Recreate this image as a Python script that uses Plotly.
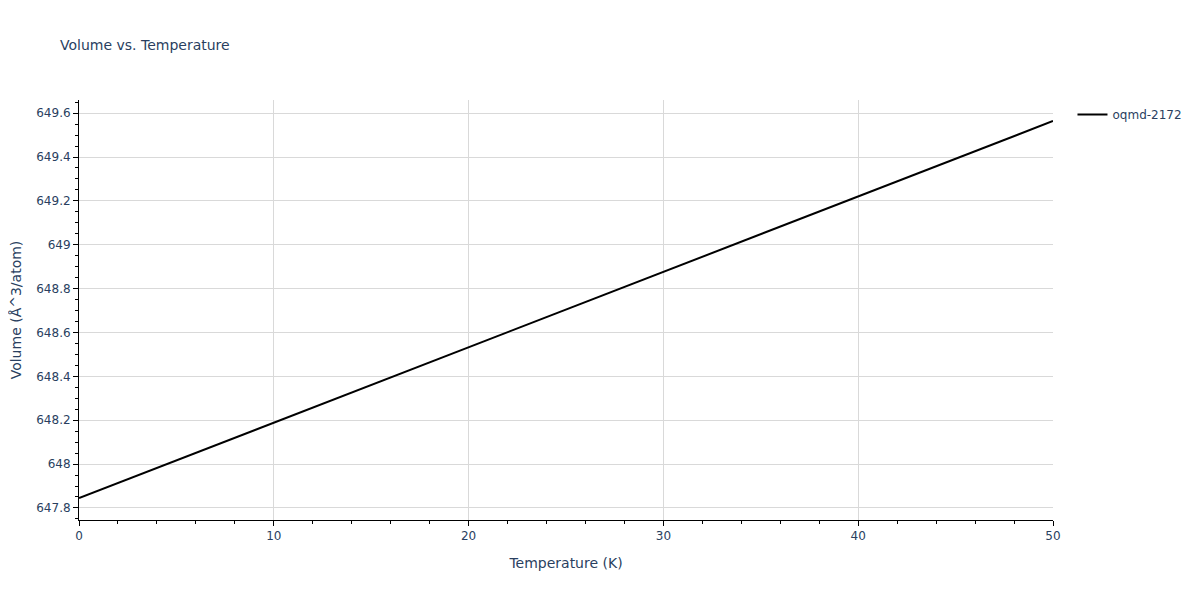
import plotly.graph_objects as go

# values
temperature = [0, 5, 10, 15, 20, 25, 30, 35, 40, 45, 50]
volume = [647.845, 648.017, 648.189, 648.361, 648.533, 648.705,
          648.877, 649.048, 649.220, 649.392, 649.564]
series_name = "oqmd-2172"

fig = go.Figure()
fig.add_trace(go.Scatter(x=temperature, y=volume, mode="lines",
                         name=series_name,
                         line=dict(color="black", width=2)))

axis_style = dict(showline=True, linecolor="black", linewidth=1,
                  ticks="outside", tickcolor="black",
                  showgrid=True, gridcolor="#d9d9d9", zeroline=False,
                  tickfont=dict(size=12))

fig.update_layout(
    template="plotly_white",
    width=1200, height=600,
    font=dict(family="Verdana, DejaVu Sans, sans-serif", color="#2a3f5f"),
    title=dict(text="Volume vs. Temperature", font=dict(size=14),
               x=0.0433, xanchor="left", y=0.938, yanchor="middle"),
    margin=dict(l=71, r=155, t=92, b=88, autoexpand=False),
    showlegend=True,
    legend=dict(font=dict(size=12)),
    xaxis=dict(title=dict(text="Temperature (K)", font=dict(size=14)),
               range=[0, 50], dtick=10,
               minor=dict(ticks="outside", dtick=2, tickcolor="black"),
               **axis_style),
    yaxis=dict(title=dict(text="Volume (Å^3/atom)", font=dict(size=14)),
               range=[647.745, 649.66], dtick=0.2,
               minor=dict(ticks="outside", dtick=0.05, tickcolor="black"),
               **axis_style),
)

fig.write_html("out.html")
